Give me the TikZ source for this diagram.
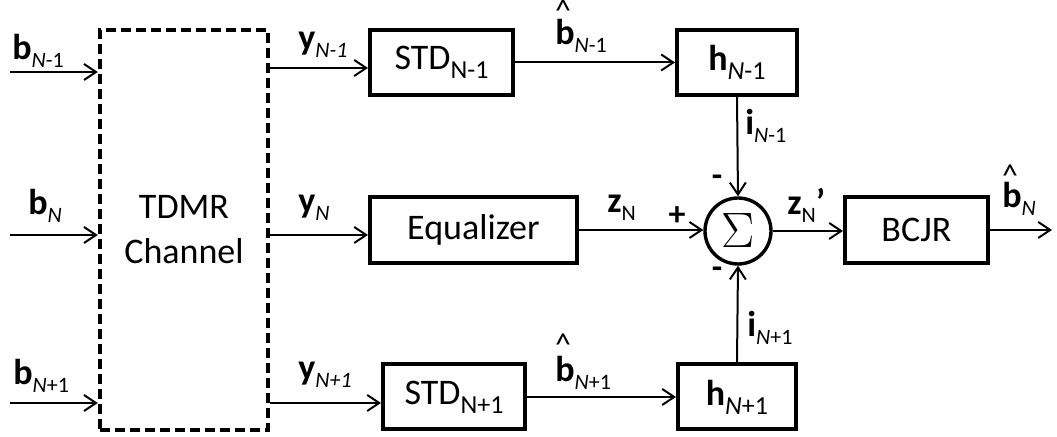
\documentclass[tikz,border=0pt]{standalone}
\usepackage{fontspec}
\setmainfont{Carlito}
\usetikzlibrary{arrows.meta,positioning}
% bold letter with a lowered subscript
\newcommand{\vlab}[3][11]{\textbf{#2}{\fontsize{#1}{#1}\selectfont\raisebox{-0.34em}{#3}}}

\begin{document}
\begin{tikzpicture}[x=0.5pt,y=-0.5pt,
  blk/.style={draw,line width=2pt,inner sep=0pt,minimum height=32.5pt,font=\fontsize{18}{22.5}\selectfont},
  sumnode/.style={circle,draw,line width=1.7pt,minimum size=33pt,inner sep=0pt},
  sig/.style={-{Straight Barb[length=6pt,width=8pt]},line width=1pt},
  label/.style={font=\fontsize{18}{20}\selectfont,inner sep=0pt},
  hat/.style={font=\fontsize{16}{16}\selectfont,inner sep=0pt},
  sign/.style={font=\fontsize{17}{17}\selectfont\bfseries,inner sep=0pt}
]
\useasboundingbox (0,0) rectangle (1057,437);

% blocks
\node[blk,dash pattern=on 5pt off 2.5pt,line width=2.2pt,minimum width=84pt,minimum height=200pt,align=center]
  (chan) at (184,230) {TDMR\\Channel};
\node[blk,minimum width=71.5pt] (std1) at (441.5,62.5) {STD\vlab[13]{}{N-1}};
\node[blk,minimum width=60pt] (h1) at (737,62.5) {\vlab[13]{h}{\textit{N}-1}};
\node[blk,minimum width=103.5pt,minimum height=33pt] (eq) at (473.5,230) {Equalizer};
\node[sumnode] (sum) at (738,231) {\fontsize{23}{23}\selectfont$\Sigma$};
\node[blk,minimum width=71.5pt,minimum height=33pt] (bcjr) at (916.5,230) {BCJR};
\node[blk,minimum width=71pt] (std3) at (454,397) {STD\vlab[13]{}{N+1}};
\node[blk,minimum width=59pt] (h3) at (737,397) {\vlab[13]{h}{\textit{N}+1}};

% labels
\node[label,anchor=base west] (lb1) at (12,60) {\vlab{b}{\textit{N}-1}};
\node[label,anchor=base west] (lb2) at (28,215) {\vlab{b}{\textit{N}}};
\node[label,anchor=base west] (lb3) at (13,385) {\vlab{b}{\textit{N}+1}};
\node[label,anchor=base west] (ly1) at (298,50) {\vlab{y}{\textit{N-1}}};
\node[label,anchor=base west] (ly2) at (298,213) {\vlab{y}{\textit{N}}};
\node[label,anchor=base west] (ly3) at (298,380) {\vlab{y}{\textit{N+1}}};
\node[label,anchor=base west] (bh1) at (555,45) {\vlab{b}{\textit{N}-1}};
\node[hat] (hat1) at (563,11) {\textasciicircum};
\node[label,anchor=base west] (bh3) at (555,382) {\vlab{b}{\textit{N}+1}};
\node[hat] (hat3) at (563,345) {\textasciicircum};
\node[label,anchor=base west] (li1) at (745,135) {\vlab{i}{\textit{N}-1}};
\node[label,anchor=base west] (li3) at (747,337) {\vlab{i}{\textit{N}+1}};
\node[label,anchor=base west] (lz) at (607,213) {\vlab{z}{N}};
\node[label,anchor=base west] (lz2) at (787,215) {\vlab{z}{N}\textbf{'}};
\node[label,anchor=base west] (bhN) at (1002,208) {\vlab{b}{\textit{N}}};
\node[hat] (hatN) at (1010,176) {\textasciicircum};
\node[sign] (plus) at (677,216) {+};
\node[sign] (mtop) at (717,181) {-};
\node[sign] (mbot) at (717,273) {-};

% connectors
\coordinate (in1) at (10,72);
\coordinate (in2) at (10,235);
\coordinate (in3) at (10,403);
\foreach \k in {1,2,3}
  \draw[sig] (in\k) -- (in\k -| chan.west);
\coordinate (r1) at (0,68);
\coordinate (r2) at (0,235);
\coordinate (r3) at (0,403);
\draw[sig] (chan.east |- r1) -- (std1.west |- r1);
\draw[sig] (chan.east |- r2) -- (eq.west |- r2);
\draw[sig] (chan.east |- r3) -- (std3.west |- r3);
\draw[sig] (std1.east) -- (h1.west);
\draw[sig] (std3.east) -- (h3.west);
\draw[sig] (h1.south) -- (sum.north);
\draw[sig] (h3.north) -- (sum.south);
\draw[sig] (eq.east) -- (eq.east -| sum.west);
\draw[sig] (sum.east) -- (sum.east -| bcjr.west);
\coordinate (bout) at (1052,230);
\draw[sig] (bcjr.east) -- (bout);
\end{tikzpicture}
\end{document}
